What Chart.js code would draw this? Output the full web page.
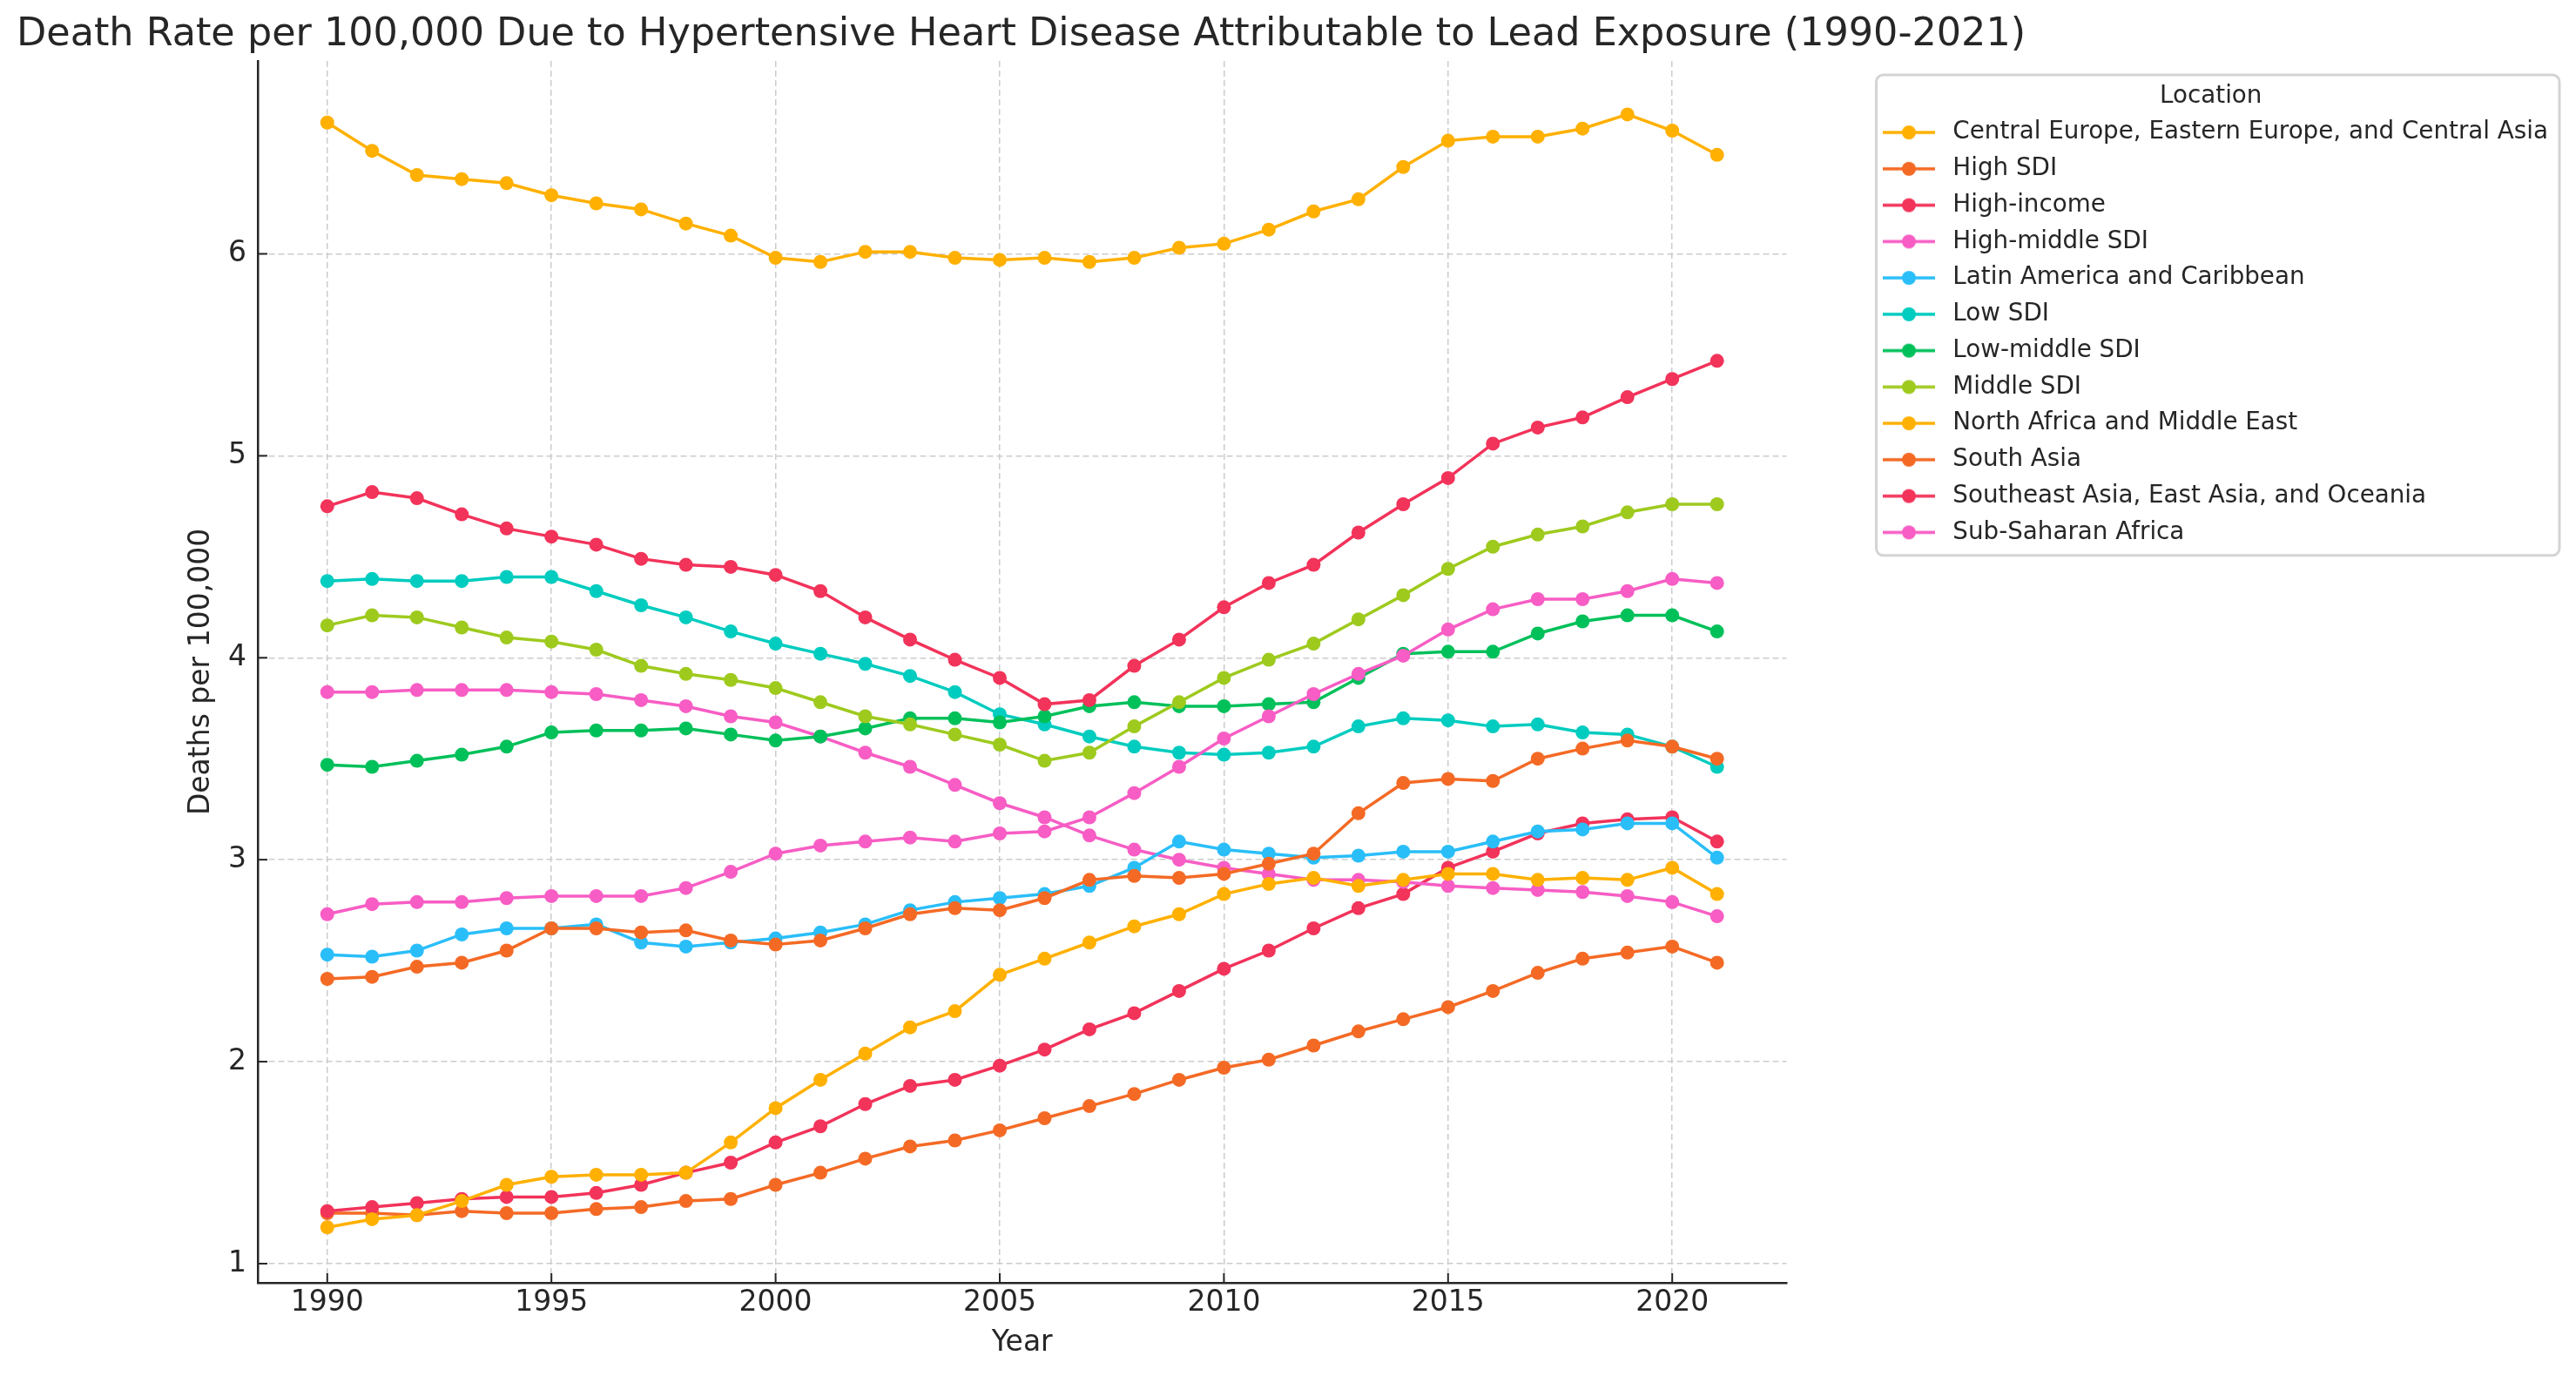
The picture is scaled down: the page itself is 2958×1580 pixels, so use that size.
<!DOCTYPE html>
<html>
<head>
<meta charset="utf-8">
<script src="https://cdn.jsdelivr.net/npm/chart.js@4.4.1/dist/chart.umd.min.js"></script>
<style>
html,body{margin:0;padding:0;background:#fff;overflow:hidden;}
#wrap{width:2958px;height:1580px;}
</style>
</head>
<body>
<div id="wrap"><canvas id="c" width="2958" height="1580" style="width:2958px;height:1580px;"></canvas></div>
<script>
const years = [1990,1991,1992,1993,1994,1995,1996,1997,1998,1999,2000,2001,2002,2003,2004,2005,2006,2007,2008,2009,2010,2011,2012,2013,2014,2015,2016,2017,2018,2019,2020,2021];
const xTickValues = [1990,1995,2000,2005,2010,2015,2020];
const yTickValues = [1,2,3,4,5,6];
const locations = ["Central Europe, Eastern Europe, and Central Asia","High SDI","High-income","High-middle SDI","Latin America and Caribbean","Low SDI","Low-middle SDI","Middle SDI","North Africa and Middle East","South Asia","Southeast Asia, East Asia, and Oceania","Sub-Saharan Africa"];
const centralEurope = [6.65,6.51,6.39,6.37,6.35,6.29,6.25,6.22,6.15,6.09,5.98,5.96,6.01,6.01,5.98,5.97,5.98,5.96,5.98,6.03,6.05,6.12,6.21,6.27,6.43,6.56,6.58,6.58,6.62,6.69,6.61,6.49];
const highSDI = [1.25,1.25,1.24,1.26,1.25,1.25,1.27,1.28,1.31,1.32,1.39,1.45,1.52,1.58,1.61,1.66,1.72,1.78,1.84,1.91,1.97,2.01,2.08,2.15,2.21,2.27,2.35,2.44,2.51,2.54,2.57,2.49];
const highIncome = [1.26,1.28,1.30,1.32,1.33,1.33,1.35,1.39,1.45,1.50,1.60,1.68,1.79,1.88,1.91,1.98,2.06,2.16,2.24,2.35,2.46,2.55,2.66,2.76,2.83,2.96,3.04,3.13,3.18,3.20,3.21,3.09];
const highMiddleSDI = [3.83,3.83,3.84,3.84,3.84,3.83,3.82,3.79,3.76,3.71,3.68,3.61,3.53,3.46,3.37,3.28,3.21,3.12,3.05,3.00,2.96,2.93,2.90,2.90,2.89,2.87,2.86,2.85,2.84,2.82,2.79,2.72];
const latinAmerica = [2.53,2.52,2.55,2.63,2.66,2.66,2.68,2.59,2.57,2.59,2.61,2.64,2.68,2.75,2.79,2.81,2.83,2.87,2.96,3.09,3.05,3.03,3.01,3.02,3.04,3.04,3.09,3.14,3.15,3.18,3.18,3.01];
const lowSDI = [4.38,4.39,4.38,4.38,4.40,4.40,4.33,4.26,4.20,4.13,4.07,4.02,3.97,3.91,3.83,3.72,3.67,3.61,3.56,3.53,3.52,3.53,3.56,3.66,3.70,3.69,3.66,3.67,3.63,3.62,3.56,3.46];
const lowMiddleSDI = [3.47,3.46,3.49,3.52,3.56,3.63,3.64,3.64,3.65,3.62,3.59,3.61,3.65,3.70,3.70,3.68,3.71,3.76,3.78,3.76,3.76,3.77,3.78,3.90,4.02,4.03,4.03,4.12,4.18,4.21,4.21,4.13];
const middleSDI = [4.16,4.21,4.20,4.15,4.10,4.08,4.04,3.96,3.92,3.89,3.85,3.78,3.71,3.67,3.62,3.57,3.49,3.53,3.66,3.78,3.90,3.99,4.07,4.19,4.31,4.44,4.55,4.61,4.65,4.72,4.76,4.76];
const northAfrica = [1.18,1.22,1.24,1.31,1.39,1.43,1.44,1.44,1.45,1.60,1.77,1.91,2.04,2.17,2.25,2.43,2.51,2.59,2.67,2.73,2.83,2.88,2.91,2.87,2.90,2.93,2.93,2.90,2.91,2.90,2.96,2.83];
const southAsia = [2.41,2.42,2.47,2.49,2.55,2.66,2.66,2.64,2.65,2.60,2.58,2.60,2.66,2.73,2.76,2.75,2.81,2.90,2.92,2.91,2.93,2.98,3.03,3.23,3.38,3.40,3.39,3.50,3.55,3.59,3.56,3.50];
const southeastAsia = [4.75,4.82,4.79,4.71,4.64,4.60,4.56,4.49,4.46,4.45,4.41,4.33,4.20,4.09,3.99,3.90,3.77,3.79,3.96,4.09,4.25,4.37,4.46,4.62,4.76,4.89,5.06,5.14,5.19,5.29,5.38,5.47];
const subSaharan = [2.73,2.78,2.79,2.79,2.81,2.82,2.82,2.82,2.86,2.94,3.03,3.07,3.09,3.11,3.09,3.13,3.14,3.21,3.33,3.46,3.60,3.71,3.82,3.92,4.01,4.14,4.24,4.29,4.29,4.33,4.39,4.37];
const seriesValues = [centralEurope,highSDI,highIncome,highMiddleSDI,latinAmerica,lowSDI,lowMiddleSDI,middleSDI,northAfrica,southAsia,southeastAsia,subSaharan];
const palette = ['#FFB000','#F46A25','#F2335A','#F75DC4','#2ABEF9','#00CCBF','#00C05A','#9ECA1E'];

const FONT = "'DejaVu Sans', sans-serif";
const TEXT = '#262626';

function legendMarker(color){
  const c = document.createElement('canvas');
  c.width = 60; c.height = 20;
  const g = c.getContext('2d');
  g.strokeStyle = color; g.lineWidth = 3.5;
  g.beginPath(); g.moveTo(0,10); g.lineTo(60,10); g.stroke();
  g.fillStyle = color; g.beginPath(); g.arc(30,10,8,0,Math.PI*2); g.fill();
  return c;
}

const datasets = locations.map((name,i) => {
  const col = palette[i % palette.length];
  return {
    label: name,
    data: years.map((yr,j) => ({x: yr, y: seriesValues[i][j]})),
    borderColor: col,
    backgroundColor: col,
    pointBackgroundColor: col,
    pointBorderWidth: 0,
    pointRadius: 8,
    borderWidth: 3.5,
    tension: 0,
    fill: false,
    order: locations.length - i
  };
});

const tickPlugin = {
  id: 'innerTicks',
  afterDraw(chart){
    const ctx = chart.ctx, a = chart.chartArea;
    const xs = chart.scales.x, ys = chart.scales.y;
    ctx.save();
    ctx.strokeStyle = TEXT; ctx.lineWidth = 2;
    xs.ticks.forEach(t => { const p = xs.getPixelForValue(t.value); ctx.beginPath(); ctx.moveTo(p, a.bottom); ctx.lineTo(p, a.bottom - 11); ctx.stroke(); });
    ys.ticks.forEach(t => { const p = ys.getPixelForValue(t.value); ctx.beginPath(); ctx.moveTo(a.left, p); ctx.lineTo(a.left + 11, p); ctx.stroke(); });
    ctx.restore();
  }
};
const legendFrame = {
  id: 'legendFrame',
  beforeDraw(chart){
    const L = chart.legend; if (!L || !L.columnSizes) return;
    const ctx = chart.ctx;
    const x0 = L.left + 13, y0 = L.top + 16;
    const x1 = L.right + 3;
    const y1 = L.top + L._computeTitleHeight() + L.columnSizes[0].height + 12.5;
    ctx.save();
    ctx.fillStyle = 'rgba(255,255,255,0.8)';
    ctx.strokeStyle = '#d4d4d4'; ctx.lineWidth = 3;
    ctx.beginPath(); ctx.roundRect(x0, y0, x1 - x0, y1 - y0, 8); ctx.fill(); ctx.stroke();
    ctx.restore();
  }
};

new Chart(document.getElementById('c'), {
  type: 'line',
  data: { datasets },
  plugins: [tickPlugin, legendFrame],
  options: {
    responsive: false,
    animation: false,
    layout: { padding: { left: 19, right: 22, top: 0, bottom: 0 } },
    plugins: {
      tooltip: { enabled: false },
      title: {
        display: true, align: 'start', color: TEXT,
        text: 'Death Rate per 100,000 Due to Hypertensive Heart Disease Attributable to Lead Exposure (1990-2021)',
        font: { family: FONT, size: 44.5, weight: 'normal' },
        padding: { top: 13.3, bottom: 3.3 }
      },
      legend: {
        display: true, position: 'right', align: 'start', fullSize: false, maxWidth: 1000,
        title: { display: true, text: 'Location', color: TEXT, position: 'center',
          font: { family: FONT, size: 27.75 }, padding: { top: 27, bottom: -6.1 } },
        labels: {
          color: TEXT, font: { family: FONT, size: 27.75 }, padding: 14,
          usePointStyle: true, pointStyleWidth: 73,
          generateLabels(chart){
            return chart.data.datasets.map((d,i) => ({
              text: d.label, fillStyle: d.borderColor, strokeStyle: d.borderColor,
              lineWidth: 0, pointStyle: legendMarker(d.borderColor), hidden: false, datasetIndex: i, fontColor: TEXT
            }));
          }
        }
      }
    },
    scales: {
      x: {
        type: 'linear', min: 1988.45, max: 2022.55,
        afterBuildTicks(s){ s.ticks = xTickValues.map(v => ({value: v})); },
        afterFit(s){ s.height = 107; },
        ticks: { color: TEXT, font: { family: FONT, size: 33 }, padding: 4, maxRotation: 0, callback: v => String(v) },
        grid: { color: '#cccccc', lineWidth: 1.5, drawTicks: false },
        border: { display: true, color: TEXT, width: 2.5, dash: [7,4] },
        title: { display: true, text: 'Year', color: TEXT, font: { family: FONT, size: 33 }, padding: { top: 0, bottom: 18 } }
      },
      y: {
        type: 'linear', position: 'left', min: 0.905, max: 6.955,
        afterBuildTicks(s){ s.ticks = yTickValues.map(v => ({value: v})); },
        afterFit(s){ s.width = 277; },
        ticks: { color: TEXT, font: { family: FONT, size: 33 }, padding: 13, callback: v => String(v) },
        grid: { color: '#cccccc', lineWidth: 1.5, drawTicks: false },
        border: { display: true, color: TEXT, width: 2.5, dash: [7,4] },
        title: { display: true, text: 'Deaths per 100,000', color: TEXT, font: { family: FONT, size: 33 }, padding: { top: 193, bottom: 0 } }
      },
      gap: {
        type: 'linear', position: 'right', display: true,
        afterFit(s){ s.width = 90; },
        ticks: { display: false },
        grid: { display: false, drawTicks: false },
        border: { display: false }
      }
    }
  }
});
</script>
</body>
</html>
